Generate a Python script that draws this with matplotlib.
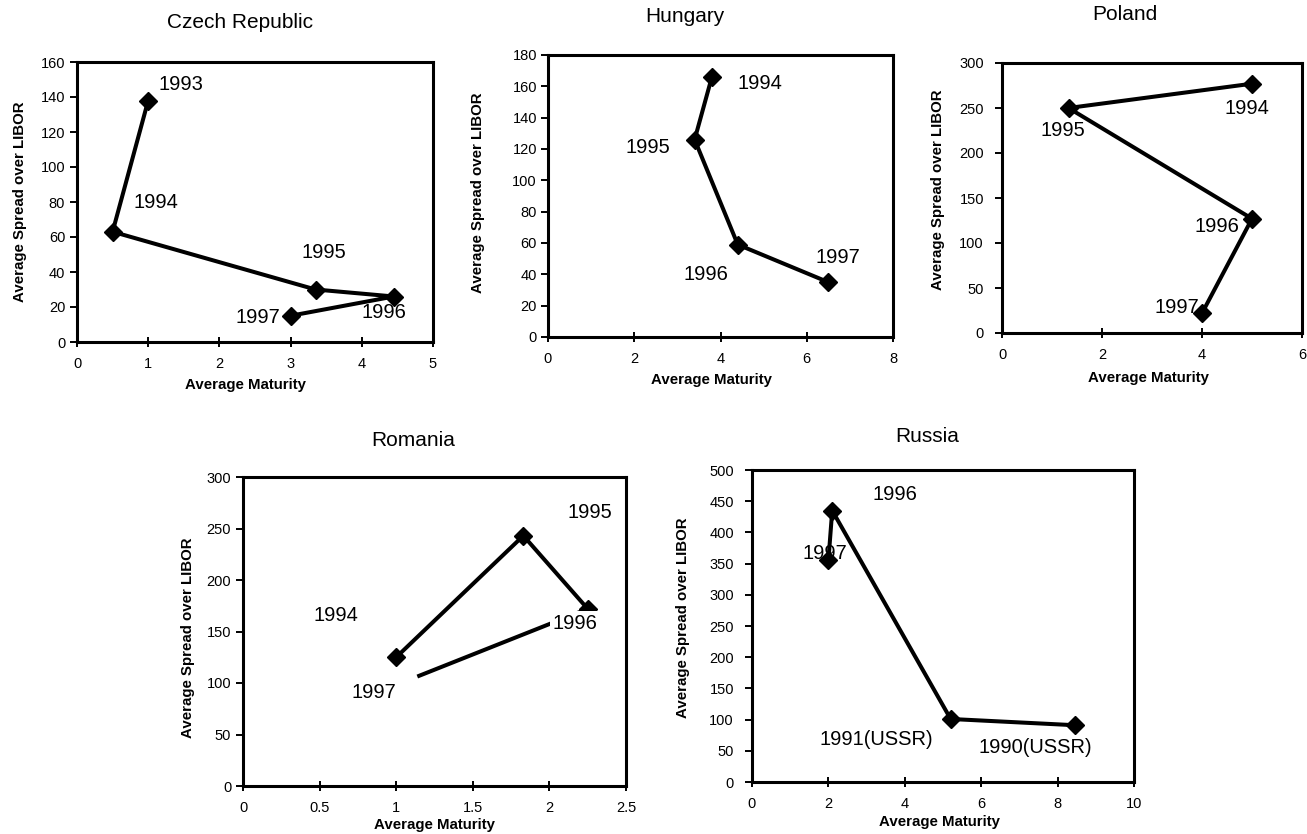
import matplotlib
matplotlib.use('Agg')
import matplotlib.pyplot as plt

plt.rcParams['font.family'] = ['Liberation Sans', 'DejaVu Sans']

W, H = 1307, 834

# ---------------- data ----------------
cz_years = ['1993', '1994', '1995', '1996', '1997']
cz_maturity = [1.0, 0.5, 3.35, 4.45, 3.0]
cz_spread = [138, 63, 30, 26, 15]

hu_years = ['1994', '1995', '1996', '1997']
hu_maturity = [3.8, 3.4, 4.4, 6.5]
hu_spread = [166, 126, 59, 35]

pl_years = ['1994', '1995', '1996', '1997']
pl_maturity = [5.0, 1.33, 5.0, 4.0]
pl_spread = [277, 250, 127, 22]

ro_years = ['1994', '1995', '1996', '1997']
ro_maturity = [1.0, 1.83, 2.25, 1.15]
ro_spread = [125, 243, 172, 107]

ru_years = ['1997', '1996', '1991(USSR)', '1990(USSR)']
ru_maturity = [2.0, 2.1, 5.2, 8.45]
ru_spread = [355, 435, 101, 91]

x_label = 'Average Maturity'
y_label = 'Average Spread over LIBOR'

# ---------------- layout ----------------
panels = [
    dict(title='Czech Republic', title_xy=(240, 22), rect=(77, 62, 433, 342),
         x=cz_maturity, y=cz_spread, years=cz_years,
         xlim=(0, 5), xticks=[0, 1, 2, 3, 4, 5], xtl=['0', '1', '2', '3', '4', '5'],
         ylim=(0, 160), yticks=list(range(0, 161, 20)),
         lab_pos=[(1.14, 147), (0.79, 80), (3.16, 51), (4.0, 17), (2.22, 14)],
         xl=(0.472, -0.154), yl=(-0.160, 0.5), ypad=3.5, box=False, mk=None),
    dict(title='Hungary', title_xy=(685, 17), rect=(548, 55, 893, 337),
         x=hu_maturity, y=hu_spread, years=hu_years,
         xlim=(0, 8), xticks=[0, 2, 4, 6, 8], xtl=['0', '2', '4', '6', '8'],
         ylim=(0, 180), yticks=list(range(0, 181, 20)),
         lab_pos=[(4.4, 162), (1.8, 121), (3.14, 40), (6.2, 51)],
         xl=(0.475, -0.152), yl=(-0.203, 0.51), ypad=3.0, box=False, mk=None),
    dict(title='Poland', title_xy=(1125, 15), rect=(1002, 63, 1302, 333),
         x=pl_maturity, y=pl_spread, years=pl_years,
         xlim=(0, 6), xticks=[0, 2, 4, 6], xtl=['0', '2', '4', '6'],
         ylim=(0, 300), yticks=list(range(0, 301, 50)),
         lab_pos=[(4.46, 250), (0.76, 225), (3.86, 118), (3.06, 28)],
         xl=(0.49, -0.167), yl=(-0.213, 0.53), ypad=8.0, box=False, mk=None),
    dict(title='Romania', title_xy=(413, 440), rect=(243, 477, 626, 786),
         x=ro_maturity, y=ro_spread, years=ro_years,
         xlim=(0, 2.5), xticks=[0, 0.5, 1, 1.5, 2, 2.5],
         xtl=['0', '0.5', '1', '1.5', '2', '2.5'],
         ylim=(0, 300), yticks=list(range(0, 301, 50)),
         lab_pos=[(0.457, 166), (2.12, 266), (2.02, 158), (0.71, 91)],
         xl=(0.501, -0.126), yl=(-0.144, 0.48), ypad=3.5, box=True, mk=[0, 1, 2]),
    dict(title='Russia', title_xy=(927, 437), rect=(752, 470, 1134, 782),
         x=ru_maturity, y=ru_spread, years=ru_years,
         xlim=(0, 10), xticks=[0, 2, 4, 6, 8, 10],
         xtl=['0', '2', '4', '6', '8', '10'],
         ylim=(0, 500), yticks=list(range(0, 501, 50)),
         lab_pos=[(1.32, 366), (3.16, 460), (1.76, 68), (5.92, 55)],
         xl=(0.492, -0.128), yl=(-0.181, 0.526), ypad=8.0, box=False, mk=None),
]

fig = plt.figure(figsize=(W / 100, H / 100), dpi=100)
fig.patch.set_facecolor('white')

for p in panels:
    x0, y0, x1, y1 = p['rect']
    ax = fig.add_axes([x0 / W, 1 - y1 / H, (x1 - x0) / W, (y1 - y0) / H])
    ax.set_xlim(*p['xlim'])
    ax.set_ylim(*p['ylim'])
    ax.set_xticks(p['xticks'])
    ax.set_xticklabels(p['xtl'])
    ax.set_yticks(p['yticks'])
    for s in ax.spines.values():
        s.set_linewidth(2.2)
        s.set_color('black')
    ax.tick_params(axis='x', direction='inout', length=7, width=1.4,
                   labelsize=10.5, pad=7)
    ax.tick_params(axis='y', direction='out', length=5, width=1.4,
                   labelsize=10.5, pad=p['ypad'])

    kw = {}
    if p['mk'] is not None:
        kw['markevery'] = p['mk']
    ax.plot(p['x'], p['y'], color='black', lw=2.9, marker='D',
            markersize=9, markerfacecolor='black', markeredgecolor='black',
            zorder=3, clip_on=False, **kw)

    for yr, (lx, ly) in zip(p['years'], p['lab_pos']):
        tkw = dict(ha='left', va='center', fontsize=14.5, color='black')
        if p['box']:
            tkw['bbox'] = dict(facecolor='white', edgecolor='none', pad=2)
            tkw['zorder'] = 4
        else:
            tkw['zorder'] = 2
        ax.text(lx, ly, yr, **tkw)

    ax.set_xlabel(x_label, fontsize=10.8, fontweight='bold', va='center')
    ax.xaxis.set_label_coords(*p['xl'])
    ax.set_ylabel(y_label, fontsize=10.8, fontweight='bold', va='center')
    ax.yaxis.set_label_coords(*p['yl'])

    tx, ty = p['title_xy']
    fig.text(tx / W, 1 - ty / H, p['title'], ha='center', va='center',
             fontsize=15)

fig.savefig('out.png', dpi=100, facecolor='white')
